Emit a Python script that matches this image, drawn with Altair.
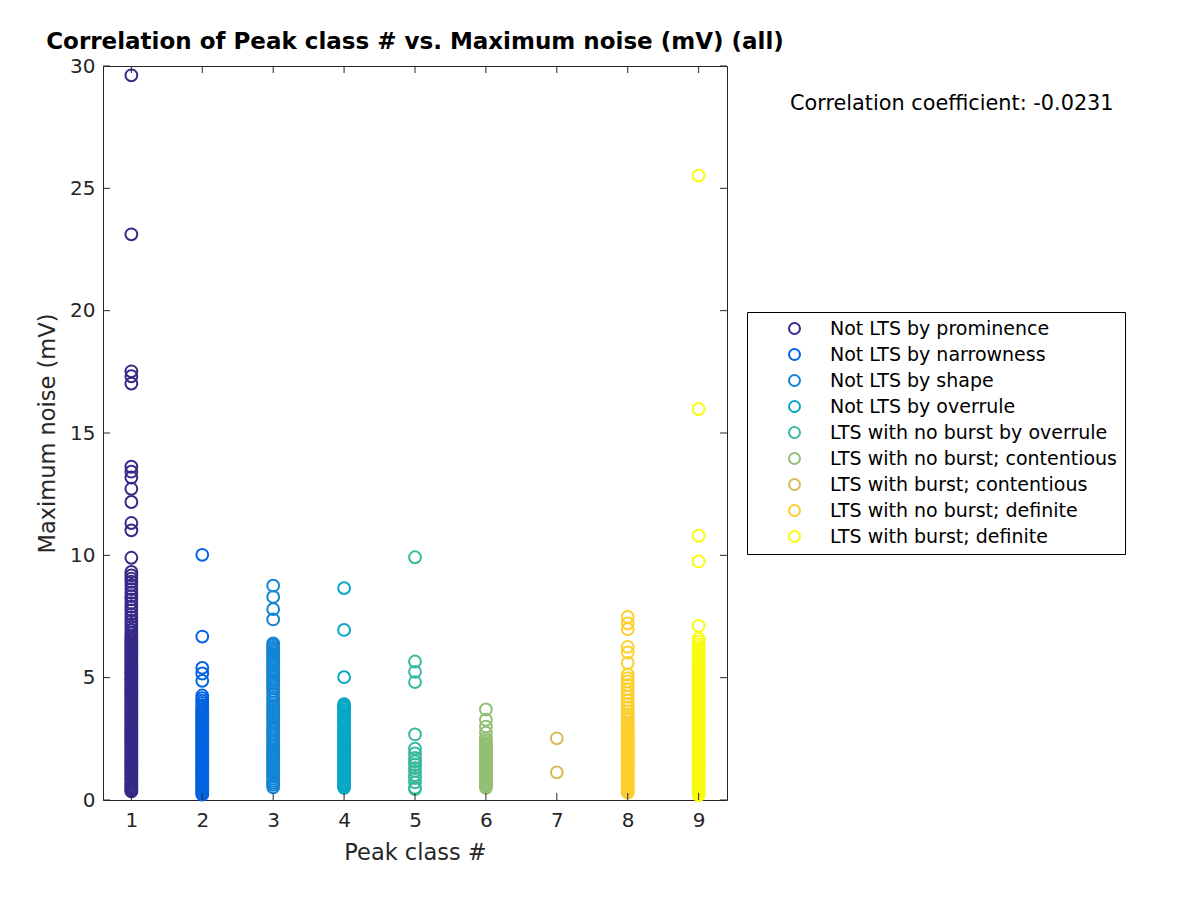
import altair as alt
import pandas as pd

class_names = [
    "Not LTS by prominence",
    "Not LTS by narrowness",
    "Not LTS by shape",
    "Not LTS by overrule",
    "LTS with no burst by overrule",
    "LTS with no burst; contentious",
    "LTS with burst; contentious",
    "LTS with no burst; definite",
    "LTS with burst; definite",
]
class_colors = ["#352a87", "#0363e1", "#1485d4", "#06a7c6", "#38b99e",
                "#92bf73", "#d9ba56", "#fcce2e", "#f9fb0e"]

c1 = [0.35, 0.40, 0.47, 0.53, 0.60, 0.66, 0.73, 0.80, 0.86, 0.93, 1.00, 1.06, 1.13, 1.20, 1.26, 1.33, 1.40, 1.46,
      1.53, 1.60, 1.66, 1.73, 1.80, 1.87, 1.93, 2.00, 2.07, 2.13, 2.20, 2.27, 2.33, 2.40, 2.47, 2.54, 2.60, 2.67,
      2.74, 2.80, 2.87, 2.94, 3.00, 3.07, 3.14, 3.20, 3.27, 3.34, 3.41, 3.47, 3.54, 3.61, 3.67, 3.74, 3.81, 3.88,
      3.94, 4.01, 4.08, 4.14, 4.21, 4.28, 4.35, 4.41, 4.48, 4.55, 4.62, 4.68, 4.75, 4.82, 4.89, 4.95, 5.02, 5.09,
      5.16, 5.22, 5.29, 5.36, 5.43, 5.50, 5.56, 5.63, 5.70, 5.77, 5.84, 5.91, 5.98, 6.05, 6.12, 6.19, 6.26, 6.33,
      6.40, 6.47, 6.55, 6.63, 6.72, 6.83, 6.95, 7.08, 7.20, 7.33, 7.47, 7.60, 7.75, 7.90, 8.05, 8.20, 8.33, 8.47,
      8.62, 8.78, 8.92, 9.05, 9.18, 9.32, 9.90, 11.02, 11.32, 12.18, 12.72, 13.18, 13.42, 13.62, 17.02, 17.32,
      17.52, 23.12, 29.62]
c2 = [0.22, 0.28, 0.35, 0.41, 0.48, 0.55, 0.61, 0.68, 0.75, 0.81, 0.88, 0.95, 1.01, 1.08, 1.15, 1.21, 1.28, 1.35,
      1.41, 1.48, 1.55, 1.62, 1.68, 1.75, 1.82, 1.88, 1.95, 2.02, 2.09, 2.15, 2.22, 2.29, 2.36, 2.42, 2.49, 2.56,
      2.63, 2.69, 2.76, 2.83, 2.90, 2.96, 3.03, 3.10, 3.17, 3.23, 3.30, 3.37, 3.44, 3.51, 3.58, 3.65, 3.72, 3.80,
      3.88, 3.97, 4.06, 4.16, 4.27, 4.87, 5.17, 5.40, 6.68, 10.02]
c3 = [0.52, 0.62, 0.70, 0.78, 0.86, 0.95, 1.03, 1.11, 1.20, 1.28, 1.36, 1.45, 1.53, 1.61, 1.70, 1.78, 1.86, 1.95,
      2.03, 2.11, 2.20, 2.28, 2.37, 2.46, 2.56, 2.66, 2.75, 2.85, 2.94, 3.04, 3.15, 3.25, 3.36, 3.46, 3.57, 3.67,
      3.78, 3.88, 3.99, 4.10, 4.20, 4.32, 4.45, 4.56, 4.66, 4.76, 4.85, 4.94, 5.03, 5.12, 5.21, 5.30, 5.39, 5.48,
      5.57, 5.66, 5.75, 5.84, 5.93, 6.02, 6.10, 6.18, 6.26, 6.34, 6.40, 7.38, 7.80, 8.30, 8.76]
c4 = [0.50, 0.57, 0.64, 0.71, 0.78, 0.85, 0.92, 0.99, 1.06, 1.13, 1.20, 1.27, 1.34, 1.41, 1.48, 1.55, 1.62, 1.69,
      1.76, 1.83, 1.90, 1.97, 2.04, 2.11, 2.18, 2.25, 2.32, 2.39, 2.47, 2.55, 2.63, 2.72, 2.81, 2.90, 2.99, 3.08,
      3.17, 3.26, 3.35, 3.44, 3.52, 3.60, 3.67, 3.74, 3.80, 3.86, 3.92, 5.02, 6.95, 8.66]
c5 = [0.45, 0.50, 0.72, 0.90, 1.02, 1.18, 1.30, 1.45, 1.58, 1.72, 1.90, 2.10, 2.68, 4.82, 5.24, 5.66, 9.92]
c6 = [0.50, 0.57, 0.64, 0.71, 0.78, 0.85, 0.92, 0.99, 1.06, 1.13, 1.20, 1.27, 1.34, 1.41, 1.48, 1.55, 1.62, 1.69,
      1.76, 1.83, 1.90, 1.97, 2.04, 2.11, 2.18, 2.25, 2.33, 2.42, 2.52, 2.75, 3.00, 3.28, 3.70]
c7 = [1.13, 2.52]
c8 = [0.30, 0.37, 0.44, 0.51, 0.58, 0.65, 0.72, 0.79, 0.86, 0.93, 1.00, 1.07, 1.14, 1.21, 1.28, 1.35, 1.42, 1.49,
      1.56, 1.63, 1.70, 1.77, 1.84, 1.91, 1.98, 2.05, 2.12, 2.19, 2.26, 2.33, 2.40, 2.47, 2.54, 2.61, 2.68, 2.75,
      2.83, 2.91, 2.99, 3.08, 3.17, 3.27, 3.38, 3.50, 3.62, 3.78, 3.92, 4.08, 4.22, 4.37, 4.52, 4.70, 4.85, 4.98,
      5.12, 5.60, 6.03, 6.26, 6.98, 7.22, 7.48]
c9 = [0.20, 0.27, 0.34, 0.41, 0.48, 0.55, 0.62, 0.69, 0.76, 0.83, 0.90, 0.97, 1.04, 1.11, 1.18, 1.25, 1.32, 1.39,
      1.46, 1.53, 1.60, 1.67, 1.74, 1.81, 1.88, 1.95, 2.02, 2.09, 2.16, 2.23, 2.30, 2.37, 2.44, 2.51, 2.58, 2.65,
      2.72, 2.79, 2.86, 2.93, 3.00, 3.07, 3.14, 3.21, 3.28, 3.35, 3.42, 3.49, 3.56, 3.63, 3.70, 3.77, 3.84, 3.91,
      3.98, 4.05, 4.12, 4.19, 4.26, 4.33, 4.40, 4.47, 4.54, 4.61, 4.68, 4.75, 4.82, 4.89, 4.96, 5.03, 5.10, 5.17,
      5.24, 5.31, 5.38, 5.45, 5.52, 5.59, 5.66, 5.74, 5.82, 5.90, 5.98, 6.06, 6.15, 6.25, 6.36, 6.48, 6.60, 7.12,
      9.75, 10.80, 15.98, 25.52]

x_ticks = [1, 2, 3, 4, 5, 6, 7, 8, 9]
y_ticks = [0, 5, 10, 15, 20, 25, 30]
corr_text = "Correlation coefficient: -0.0231"

W, H = 624, 734
rows = []
for i, vals in enumerate([c1, c2, c3, c4, c5, c6, c7, c8, c9]):
    for v in vals:
        rows.append({"cls": i + 1, "name": class_names[i], "noise": v})
df = pd.DataFrame(rows)

xscale = alt.Scale(domain=[0.6, 9.4], nice=False, zero=False)
yscale = alt.Scale(domain=[0, 30], nice=False, zero=False)
axis_color = "#262626"

points = alt.Chart(df).mark_point(shape="circle", filled=False, size=140, strokeWidth=2, opacity=1).encode(
    x=alt.X("cls:Q", scale=xscale, title="Peak class #",
            axis=alt.Axis(values=x_ticks, format="d", tickSize=0, domain=False, grid=False,
                          labelFontSize=20, titleFontSize=22.5, labelPadding=10, titlePadding=11,
                          labelColor=axis_color, titleColor=axis_color, titleFontWeight="normal")),
    y=alt.Y("noise:Q", scale=yscale, title="Maximum noise (mV)",
            axis=alt.Axis(values=y_ticks, format="d", tickSize=0, domain=False, grid=False,
                          labelFontSize=20, titleFontSize=22.5, labelPadding=8, titlePadding=10,
                          labelColor=axis_color, titleColor=axis_color, titleFontWeight="normal")),
    color=alt.Color("name:N", sort=class_names,
                    scale=alt.Scale(domain=class_names, range=class_colors),
                    legend=alt.Legend(title=None, orient="none", legendX=644, legendY=246,
                                      strokeColor="black", fillColor="white", padding=7,
                                      symbolType="circle", symbolSize=120, symbolStrokeWidth=2,
                                      symbolFillColor="white",
                                      symbolOffset=31, labelOffset=26, labelFontSize=19,
                                      labelColor="black", rowPadding=6, labelLimit=400)),
)

xt = pd.DataFrame({"t": x_ticks})
yt = pd.DataFrame({"t": y_ticks})
tick_len = 7
xb = alt.Chart(xt).mark_rule(color=axis_color, strokeWidth=1).encode(
    x=alt.X("t:Q", scale=xscale), y=alt.value(H), y2=alt.value(H - tick_len))
xtop = alt.Chart(xt).mark_rule(color=axis_color, strokeWidth=1).encode(
    x=alt.X("t:Q", scale=xscale), y=alt.value(0), y2=alt.value(tick_len))
yl = alt.Chart(yt).mark_rule(color=axis_color, strokeWidth=1).encode(
    y=alt.Y("t:Q", scale=yscale), x=alt.value(0), x2=alt.value(tick_len))
yr = alt.Chart(yt).mark_rule(color=axis_color, strokeWidth=1).encode(
    y=alt.Y("t:Q", scale=yscale), x=alt.value(W), x2=alt.value(W - tick_len))

ann = alt.Chart(pd.DataFrame({"txt": [corr_text]})).mark_text(
    align="left", baseline="middle", fontSize=20.8, color="black").encode(
    text="txt:N", x=alt.value(687), y=alt.value(38))

chart = alt.layer(points, xb, xtop, yl, yr, ann).properties(
    width=W, height=H,
    title=alt.Title("Correlation of Peak class # vs. Maximum noise (mV) (all)", fontSize=23,
                    fontWeight="bold", color="black", anchor="middle", offset=8, dy=6),
    autosize=alt.AutoSizeParams(type="none"),
    padding={"left": 95, "top": 58, "right": 460, "bottom": 90},
).configure(
    font="DejaVu Sans",
    view=alt.ViewConfig(stroke=axis_color, strokeWidth=1),
)

chart.save("out.html", embed_options={"renderer": "svg", "actions": False})
